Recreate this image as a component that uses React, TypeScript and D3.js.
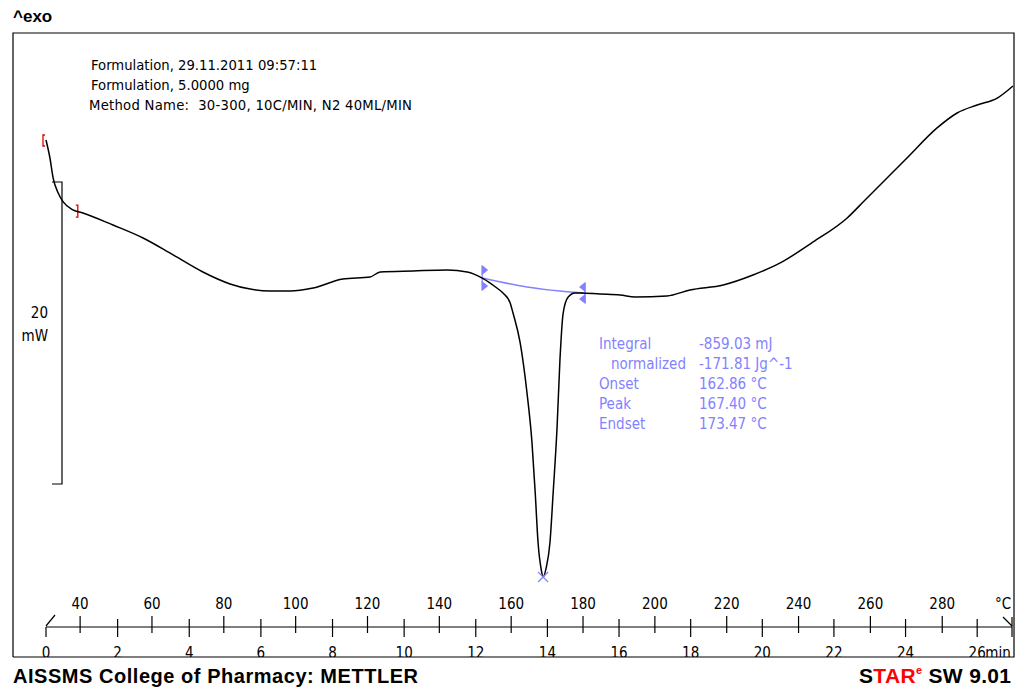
import React from 'react';
import * as d3 from 'd3';

// DSC curve: time in min, heat flow in mW (exo up)
const timeMin = [0, 0.11, 0.2, 0.34, 0.48, 0.75, 1.03, 1.87, 2.71, 3.55, 4.38, 5.14, 5.7, 6.26, 6.81, 7.46, 8.29, 9.05, 9.33, 10.25, 11.2, 11.76, 12.18, 12.59, 12.76, 12.96, 13.04, 13.24, 13.43, 13.57, 13.66, 13.74, 13.83, 13.88, 13.97, 14.07, 14.16, 14.27, 14.35, 14.44, 14.58, 14.77, 14.91, 15.47, 16.03, 16.45, 17.34, 17.98, 18.91, 19.74, 20.5, 21.42, 22.37, 22.87, 24.04, 24.88, 25.44, 26.0, 26.56, 27.0];
const heatFlow = [2.78, 1.59, 0.26, -0.73, -1.32, -1.85, -2.05, -2.85, -3.71, -4.83, -5.96, -6.75, -7.09, -7.22, -7.22, -7.02, -6.42, -6.29, -5.96, -5.89, -5.83, -5.96, -6.36, -7.02, -7.35, -8.01, -8.68, -10.66, -13.97, -17.28, -20.6, -23.91, -25.7, -26.16, -25.5, -23.91, -20.6, -16.23, -11.79, -8.68, -7.62, -7.35, -7.35, -7.42, -7.48, -7.62, -7.55, -7.15, -6.82, -6.16, -5.36, -3.97, -2.38, -1.19, 1.59, 3.58, 4.57, 5.1, 5.56, 6.36];

// integration baseline of the melting peak
const baseTime = [12.18, 13.43, 14.35, 15.05];
const baseFlow = [-6.36, -6.95, -7.22, -7.35];

// evaluation brackets (red) at the start
const bracketTime = [0, 0.86];

const tempTicks = [40, 60, 80, 100, 120, 140, 160, 180, 200, 220, 240, 260, 280];
const timeTicks = [0, 2, 4, 6, 8, 10, 12, 14, 16, 18, 20, 22, 24, 26];
const scaleBar = [-20, 0]; // 20 mW

const headerLines = [
  'Formulation, 29.11.2011 09:57:11',
  'Formulation, 5.0000 mg',
  'Method Name:  30-300, 10C/MIN, N2 40ML/MIN',
];
const resultLabels = ['Integral', 'normalized', 'Onset', 'Peak', 'Endset'];
const resultValues = ['-859.03 mJ', '-171.81 Jg^-1', '162.86 °C', '167.40 °C', '173.47 °C'];

const W = 1017;
const H = 690;
const frame = { left: 13, top: 33, right: 1014, bottom: 657 };
const axisY = 627;
const blue = '#8282ff';
const txtFont = '"DejaVu Sans Condensed", "DejaVu Sans", sans-serif';
const boldFont = '"Liberation Sans", Arial, sans-serif';

export default function App() {
  const x = d3.scaleLinear().domain([0, 27]).range([46, 1013]);
  const xT = d3.scaleLinear().domain([30.5, 299.7]).range([46, 1013]);
  const y = d3.scaleLinear().domain([-20, 0]).range([484, 182]);

  const pts = timeMin.map((t, i) => [t, heatFlow[i]] as [number, number]);
  const line = d3.line<[number, number]>()
    .x(d => x(d[0]))
    .y(d => y(d[1]))
    .curve(d3.curveMonotoneX);
  const basePts = baseTime.map((t, i) => [t, baseFlow[i]] as [number, number]);

  const flowAt = d3.scaleLinear().domain(timeMin).range(heatFlow);
  const peakIdx = d3.minIndex(heatFlow);
  const px = x(timeMin[peakIdx]);
  const py = y(heatFlow[peakIdx]);

  const onX = x(baseTime[0]);
  const onY = y(baseFlow[0]);
  const endX = x(baseTime[baseTime.length - 1]);
  const endY = y(baseFlow[baseFlow.length - 1]);

  return (
    <svg width={W} height={H} style={{ position: 'absolute', left: 0, top: 0, background: '#fff' }}>
      <defs>
        <clipPath id="plotClip">
          <rect x={frame.left} y={frame.top} width={frame.right - frame.left} height={frame.bottom - frame.top} />
        </clipPath>
      </defs>
      <rect width={W} height={H} fill="#fff" />

      <text x={13} y={22} fontFamily={boldFont} fontWeight="bold" fontSize={17}>^exo</text>

      {/* frame */}
      <path d={`M${frame.left},${frame.bottom}V${frame.top}H${frame.right}V${frame.bottom}H${frame.left}`} fill="none" stroke="#000" strokeWidth={1.2} />

      {/* header */}
      {headerLines.map((s, i) => (
        <text key={s} x={i === 2 ? 89 : 91} y={70 + i * 20} fontFamily={txtFont} fontSize={14.7} fill="#000"
          style={{ whiteSpace: 'pre' }} {...(i === 2 ? { textLength: 323, lengthAdjust: 'spacing' } : {})}>{s}</text>
      ))}

      {/* 20 mW scale bar */}
      <path
        d={`M52,${y(scaleBar[1])}H62V${y(scaleBar[0])}H52`}
        fill="none" stroke="#000" strokeWidth={1.2}
      />
      <text x={48} y={318} textAnchor="end" fontFamily={txtFont} fontSize={15}>20</text>
      <text x={48} y={341} textAnchor="end" fontFamily={txtFont} fontSize={15}>mW</text>

      {/* red evaluation brackets */}
      {bracketTime.map((t, i) => {
        const bx = x(t) + (i === 0 ? -3 : 0);
        const by = y(flowAt(t));
        const d = i === 0
          ? `M${bx + 2},${by - 5}H${bx}V${by + 6}H${bx + 2}`
          : `M${bx - 1},${by - 6}H${bx + 1}V${by + 6}H${bx - 1}`;
        return <path key={i} d={d} fill="none" stroke="#e00000" strokeWidth={1.3} />;
      })}

      {/* baseline */}
      <path d={line(basePts) ?? ''} fill="none" stroke={blue} strokeWidth={1.5} />
      {/* limit markers */}
      <g fill={blue} stroke={blue} strokeWidth={1.2}>
        <line x1={onX} x2={onX} y1={onY - 12} y2={onY + 12} />
        <path d={`M${onX},${onY - 12}l5,4l-5,4Z`} />
        <path d={`M${onX},${onY + 4}l5,4l-5,4Z`} />
        <line x1={endX} x2={endX} y1={endY - 10} y2={endY + 10} />
        <path d={`M${endX},${endY - 10}l-5,4l5,4Z`} />
        <path d={`M${endX},${endY + 2}l-5,4l5,4Z`} />
      </g>

      {/* DSC curve */}
      <g clipPath="url(#plotClip)">
        <path d={line(pts) ?? ''} fill="none" stroke="#000" strokeWidth={1.5} />
      </g>

      {/* peak cross */}
      <g stroke={blue} strokeWidth={1.2}>
        <line x1={px - 5} x2={px + 5} y1={py - 5} y2={py + 5} />
        <line x1={px - 5} x2={px + 5} y1={py + 5} y2={py - 5} />
      </g>

      {/* results */}
      {resultLabels.map((s, i) => (
        <g key={s} fontFamily={txtFont} fontSize={15} fill={blue}>
          <text x={i === 1 ? 611 : 599} y={349 + i * 20}>{s}</text>
          <text x={699} y={349 + i * 20}>{resultValues[i]}</text>
        </g>
      ))}

      {/* dual axis: temperature above, time below */}
      <g stroke="#000" strokeWidth={1.2}>
        <line x1={x(0)} x2={x(27) - 1} y1={axisY} y2={axisY} />
        {tempTicks.map(t => (
          <line key={t} x1={xT(t)} x2={xT(t)} y1={axisY - 11} y2={axisY + 6} />
        ))}
        {timeTicks.map(t => (
          <line key={t} x1={x(t)} x2={x(t)} y1={t === 0 ? axisY : axisY - 8} y2={axisY + 10} />
        ))}
        <line x1={x(0)} y1={axisY - 1} x2={x(0) + 9} y2={axisY - 12} />
        <line x1={1012} x2={1012} y1={axisY - 10} y2={axisY + 10} />
        <line x1={1003} y1={axisY - 10} x2={1012} y2={axisY - 1} />
      </g>
      <g fontFamily={txtFont} fontSize={15} textAnchor="middle">
        {tempTicks.map(t => (
          <text key={t} x={xT(t)} y={609}>{t}</text>
        ))}
        <text x={1003} y={609}>°C</text>
      </g>
      <g fontFamily={txtFont} fontSize={15} textAnchor="middle" clipPath="url(#plotClip)">
        {timeTicks.map(t => (
          <text key={t} x={x(t)} y={658}>{t}</text>
        ))}
        <text x={998} y={658}>min</text>
      </g>

      {/* footer */}
      <text x={13} y={683} fontFamily={boldFont} fontWeight="bold" fontSize={20} textLength={405} lengthAdjust="spacing">
        AISSMS College of Pharmacy: METTLER
      </text>
      <text x={1011} y={683} textAnchor="end" fontFamily={boldFont} fontWeight="bold" fontSize={21} textLength={152} lengthAdjust="spacing">
        <tspan>S</tspan>
        <tspan fill="#ff0000">TAR</tspan>
        <tspan fill="#ff0000" fontSize={11} dy={-9}>e</tspan>
        <tspan dy={9}> SW 9.01</tspan>
      </text>
    </svg>
  );
}
